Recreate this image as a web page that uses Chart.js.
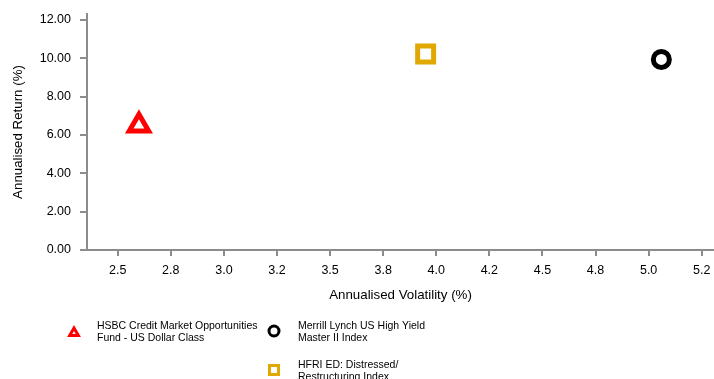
<!DOCTYPE html>
<html>
<head>
<meta charset="utf-8">
<script src="https://cdn.jsdelivr.net/npm/chart.js@4/dist/chart.umd.min.js"></script>
<style>
  html, body { margin: 0; padding: 0; background: #fff; }
  canvas { display: block; }
</style>
</head>
<body>
<canvas id="riskReturn" width="714" height="379"></canvas>
<script>
// Risk / return scatter, one point per series
const SERIES_NAMES = [
    ['HSBC Credit Market Opportunities', 'Fund - US Dollar Class'],
    ['Merrill Lynch US High Yield', 'Master II Index'],
    ['HFRI ED: Distressed/', 'Restructuring Index']
];
const VOLATILITY = [2.60, 5.06, 3.95];
const RETURNS = [6.50, 9.94, 10.23];
const SERIES_COLORS = ['#ff0000', '#000000', '#e0a800'];
const POINT_STYLES = ['triangle', 'circle', 'rect'];

const X_TICKS = [2.5, 2.75, 3.0, 3.25, 3.5, 3.75, 4.0, 4.25, 4.5, 4.75, 5.0, 5.25];
const X_TICK_LABELS = ['2.5', '2.8', '3.0', '3.2', '3.5', '3.8', '4.0', '4.2', '4.5', '4.8', '5.0', '5.2'];
const Y_TICKS = [0, 2, 4, 6, 8, 10, 12];

const FONT = "'Liberation Sans', Arial, sans-serif";
const AXIS_GREY = '#8c8c8c';

// marker sizes, on the plot and in the legend
const POINT_RADIUS = { triangle: 11.2, circle: 8, rect: 11.3 };
const LEGEND_RADIUS = { triangle: 5, circle: 5, rect: 6.4 };

// legend is laid out by hand under the plot: two columns, two-line names
const legendSlots = [
    { x: 74, y: 333, tx: 97, ty: 326 },
    { x: 274, y: 331, tx: 298, ty: 326 },
    { x: 274, y: 370, tx: 298, ty: 365 }
];

const scatterLegend = {
    id: 'scatterLegend',
    afterDraw(chart) {
        const ctx = chart.ctx;
        ctx.save();
        chart.data.datasets.forEach((ds, i) => {
            const slot = legendSlots[i];
            ctx.fillStyle = '#ffffff';
            ctx.strokeStyle = ds.pointBorderColor;
            ctx.lineWidth = 3;
            Chart.helpers.drawPoint(ctx, {
                pointStyle: ds.pointStyle,
                radius: LEGEND_RADIUS[ds.pointStyle],
                rotation: 0,
                borderWidth: 3
            }, slot.x, slot.y);

            ctx.fillStyle = '#000000';
            ctx.font = '10.5px ' + FONT;
            ctx.textAlign = 'left';
            ctx.textBaseline = 'middle';
            SERIES_NAMES[i].forEach((line, j) => ctx.fillText(line, slot.tx, slot.ty + j * 12));
        });
        ctx.restore();
    }
};

const datasets = SERIES_NAMES.map((name, i) => ({
    label: name.join(' '),
    data: [{ x: VOLATILITY[i], y: RETURNS[i] }],
    pointStyle: POINT_STYLES[i],
    pointRadius: POINT_RADIUS[POINT_STYLES[i]],
    pointHoverRadius: POINT_RADIUS[POINT_STYLES[i]],
    pointBackgroundColor: '#ffffff',
    pointBorderColor: SERIES_COLORS[i],
    pointBorderWidth: 5,
    pointHoverBorderWidth: 5
}));

const tickFont = { family: FONT, size: 12.5 };
const titleFont = { family: FONT, size: 13.3 };

// no extra room for edge tick labels: plot runs to the canvas edge
function noEdgePadding(s) {
    s.paddingLeft = 0;
    s.paddingRight = 0;
    s.paddingTop = 0;
    s.paddingBottom = 0;
}

new Chart(document.getElementById('riskReturn'), {
    type: 'scatter',
    data: { datasets },
    options: {
        responsive: false,
        devicePixelRatio: 1,
        animation: false,
        layout: {
            autoPadding: false,
            padding: { top: 14, right: 0, bottom: 76, left: 0 }
        },
        plugins: {
            legend: { display: false },
            tooltip: { enabled: false }
        },
        scales: {
            x: {
                type: 'linear',
                min: 2.3554,
                max: 5.3079,
                afterBuildTicks: s => { s.ticks = X_TICKS.map(v => ({ value: v })); },
                afterFit: s => { s.height = 53; noEdgePadding(s); },
                ticks: {
                    autoSkip: false,
                    maxRotation: 0,
                    padding: 7,
                    color: '#000000',
                    font: tickFont,
                    callback: (v, i) => X_TICK_LABELS[i]
                },
                grid: { drawOnChartArea: false, drawTicks: true, tickLength: 6, color: AXIS_GREY, lineWidth: 2 },
                border: { display: true, color: AXIS_GREY, width: 2 },
                title: {
                    display: true,
                    text: 'Annualised Volatility (%)',
                    color: '#000000',
                    font: titleFont,
                    padding: { top: 0, bottom: 0 }
                }
            },
            y: {
                type: 'linear',
                min: 0,
                max: 12.313,
                afterBuildTicks: s => { s.ticks = Y_TICKS.map(v => ({ value: v })); },
                afterFit: s => { s.width = 87; noEdgePadding(s); },
                ticks: {
                    padding: 9,
                    color: '#000000',
                    font: tickFont,
                    callback: v => v.toFixed(2)
                },
                grid: { drawOnChartArea: false, drawTicks: true, tickLength: 7, color: AXIS_GREY, lineWidth: 2 },
                border: { display: true, color: AXIS_GREY, width: 2 },
                title: {
                    display: true,
                    text: 'Annualised Return (%)',
                    color: '#000000',
                    font: titleFont,
                    padding: { top: 10, bottom: 0 }
                }
            }
        }
    },
    plugins: [scatterLegend]
});
</script>
</body>
</html>
